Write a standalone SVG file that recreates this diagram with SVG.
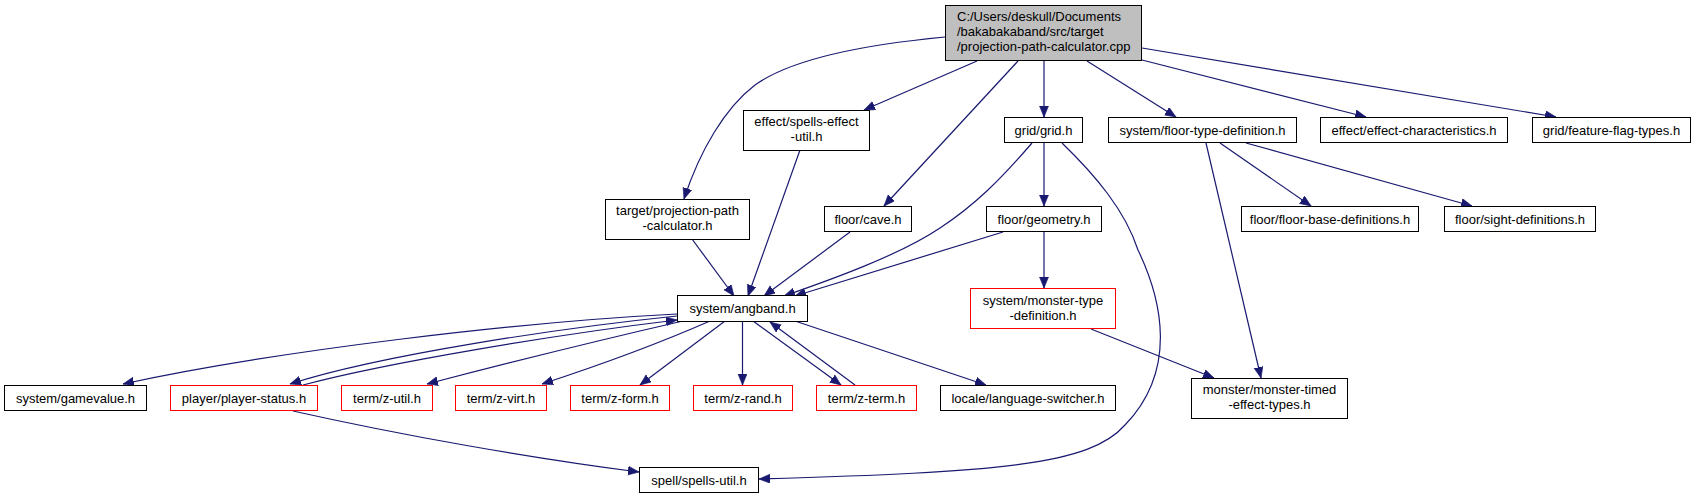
<svg xmlns="http://www.w3.org/2000/svg" width="1696" height="499" viewBox="0 0 1696 499">
<defs>
<marker id="ah" markerUnits="userSpaceOnUse" markerWidth="12" markerHeight="10" refX="11" refY="4.5" orient="auto">
<path d="M0,0 L11,4.5 L0,9 z" fill="#191970" stroke="#191970" stroke-width="0.6"/>
</marker>
<style>
.n rect{fill:#ffffff;stroke:#000000;stroke-width:1}
.r rect{fill:#ffffff;stroke:#ff0000;stroke-width:1}
.root rect{fill:#bfbfbf;stroke:#000000;stroke-width:1}
text{font-family:"Liberation Sans",Arial,sans-serif;font-size:13px;fill:#000000}
.c{text-anchor:middle}
#edges path{fill:none;stroke:#191970;stroke-width:1.2;marker-end:url(#ah)}
</style>
</defs>
<rect x="0" y="0" width="1696" height="499" fill="#ffffff"/>
<g id="edges">
<path d="M945,37 C860,45 790,60 755,85 C725,108 700,150 684,199"/>
<path d="M977,61 L864,110"/>
<path d="M1018,61 L884,206"/>
<path d="M1044,61 L1044,117"/>
<path d="M1087,61 L1176,117"/>
<path d="M1142,60 L1366,117"/>
<path d="M1142,48 L1556,117"/>
<path d="M800,150 L748,296"/>
<path d="M692,239 L734,296"/>
<path d="M850,232 L764,296"/>
<path d="M1032,143 C1000,180 975,205 940,228 C900,255 830,280 784,296"/>
<path d="M1044,143 L1044,206"/>
<path d="M1062,143 C1095,175 1125,210 1138,250 C1162,300 1178,370 1125,425 C1090,465 1000,472 759,479"/>
<path d="M1003,232 L795,296"/>
<path d="M1044,232 L1044,288"/>
<path d="M1220,143 L1311,206"/>
<path d="M1246,143 L1472,206"/>
<path d="M1206,143 L1261,378"/>
<path d="M1091,329 L1214,378"/>
<path d="M677,314 C520,322 280,350 123,384"/>
<path d="M677,316 C560,328 380,355 290,384"/>
<path d="M303,385 C390,362 560,334 677,320"/>
<path d="M683,321 C600,340 500,365 427,384"/>
<path d="M710,321 C660,343 600,365 542,384"/>
<path d="M725,321 L640,385"/>
<path d="M742.5,321 L742.5,385"/>
<path d="M753,321 L841,385"/>
<path d="M855,385 L770,322"/>
<path d="M795,321 L986,385"/>
<path d="M293,411 C400,435 530,458 639,472"/>
</g>
<g id="root" class="root">
<rect x="945.5" y="5.5" width="196" height="55"/>
<text x="957" y="21">C:/Users/deskull/Documents</text>
<text x="957" y="36">/bakabakaband/src/target</text>
<text x="957" y="51">/projection-path-calculator.cpp</text>
</g>
<g id="spells_effect_util" class="n">
<rect x="743.5" y="110.5" width="126" height="40"/>
<text class="c" x="806.5" y="126">effect/spells-effect</text>
<text class="c" x="806.5" y="141">-util.h</text>
</g>
<g id="grid" class="n">
<rect x="1004.5" y="117.5" width="78" height="25"/>
<text class="c" x="1043.5" y="134.5">grid/grid.h</text>
</g>
<g id="floor_type_definition" class="n">
<rect x="1108.5" y="117.5" width="188" height="25"/>
<text class="c" x="1202.5" y="134.5">system/floor-type-definition.h</text>
</g>
<g id="effect_characteristics" class="n">
<rect x="1320.5" y="117.5" width="187" height="25"/>
<text class="c" x="1414" y="134.5">effect/effect-characteristics.h</text>
</g>
<g id="feature_flag_types" class="n">
<rect x="1532.5" y="117.5" width="158" height="25"/>
<text class="c" x="1611.5" y="134.5">grid/feature-flag-types.h</text>
</g>
<g id="projection_path_calculator_h" class="n">
<rect x="605.5" y="199.5" width="144" height="40"/>
<text class="c" x="677.5" y="215">target/projection-path</text>
<text class="c" x="677.5" y="230">-calculator.h</text>
</g>
<g id="cave" class="n">
<rect x="824.5" y="206.5" width="87" height="25"/>
<text class="c" x="868" y="223.5">floor/cave.h</text>
</g>
<g id="geometry" class="n">
<rect x="986.5" y="206.5" width="115" height="25"/>
<text class="c" x="1044" y="223.5">floor/geometry.h</text>
</g>
<g id="floor_base_definitions" class="n">
<rect x="1241.5" y="206.5" width="177" height="25"/>
<text class="c" x="1330" y="223.5">floor/floor-base-definitions.h</text>
</g>
<g id="sight_definitions" class="n">
<rect x="1444.5" y="206.5" width="151" height="25"/>
<text class="c" x="1520" y="223.5">floor/sight-definitions.h</text>
</g>
<g id="angband" class="n">
<rect x="677.5" y="295.5" width="130" height="26"/>
<text class="c" x="742.5" y="313">system/angband.h</text>
</g>
<g id="monster_type_definition" class="r">
<rect x="970.5" y="288.5" width="145" height="40"/>
<text class="c" x="1043" y="304.5">system/monster-type</text>
<text class="c" x="1043" y="319.5">-definition.h</text>
</g>
<g id="gamevalue" class="n">
<rect x="4.5" y="385.5" width="142" height="25"/>
<text class="c" x="75.5" y="402.5">system/gamevalue.h</text>
</g>
<g id="player_status" class="r">
<rect x="170.5" y="385.5" width="147" height="25"/>
<text class="c" x="244" y="402.5">player/player-status.h</text>
</g>
<g id="z_util" class="r">
<rect x="341.5" y="385.5" width="91" height="25"/>
<text class="c" x="387" y="402.5">term/z-util.h</text>
</g>
<g id="z_virt" class="r">
<rect x="455.5" y="385.5" width="91" height="25"/>
<text class="c" x="501" y="402.5">term/z-virt.h</text>
</g>
<g id="z_form" class="r">
<rect x="570.5" y="385.5" width="99" height="25"/>
<text class="c" x="620" y="402.5">term/z-form.h</text>
</g>
<g id="z_rand" class="r">
<rect x="693.5" y="385.5" width="99" height="25"/>
<text class="c" x="743" y="402.5">term/z-rand.h</text>
</g>
<g id="z_term" class="r">
<rect x="816.5" y="385.5" width="100" height="25"/>
<text class="c" x="866.5" y="402.5">term/z-term.h</text>
</g>
<g id="language_switcher" class="n">
<rect x="940.5" y="385.5" width="175" height="25"/>
<text class="c" x="1028" y="402.5">locale/language-switcher.h</text>
</g>
<g id="monster_timed_effect_types" class="n">
<rect x="1191.5" y="378.5" width="156" height="40"/>
<text class="c" x="1269.5" y="394">monster/monster-timed</text>
<text class="c" x="1269.5" y="409">-effect-types.h</text>
</g>
<g id="spells_util" class="n">
<rect x="639.5" y="467.5" width="119" height="25"/>
<text class="c" x="699" y="484.5">spell/spells-util.h</text>
</g>
</svg>
